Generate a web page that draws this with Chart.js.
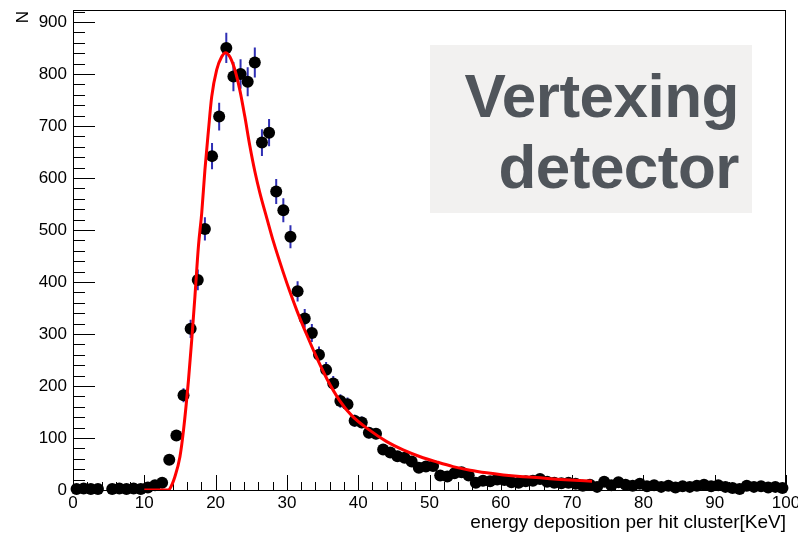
<!DOCTYPE html>
<html>
<head>
<meta charset="utf-8">
<script src="https://cdn.jsdelivr.net/npm/chart.js@4.4.1/dist/chart.umd.min.js"></script>
<style>
  html, body { margin: 0; padding: 0; background: #fff; }
  #wrap { position: relative; width: 798px; height: 537px; overflow: hidden; }
  #plot { position: absolute; left: 0; top: 0; }
  .lbl { position: absolute; font-family: "Liberation Sans", Arial, Helvetica, sans-serif; color: #000; white-space: nowrap; }
  #ytitle { left: 13px; top: 7px; width: 20px; height: 20px; line-height: 20px; text-align: center; font-size: 17px; transform: rotate(-90deg); }
  #xtitle { right: 12px; top: 511px; font-size: 19px; line-height: 22px; }
  #tag {
    position: absolute; left: 430px; top: 45px; width: 322px; height: 168px;
    background: #f2f1f0; box-sizing: border-box; padding: 15px 13px 0 0;
    text-align: right; font-family: "Liberation Sans", Arial, Helvetica, sans-serif;
    font-weight: bold; font-size: 62px; line-height: 71px; color: #50555b; letter-spacing: -0.5px;
  }
</style>
</head>
<body>
<div id="wrap">
  <canvas id="plot" width="798" height="537"></canvas>
  <div class="lbl" id="ytitle">N</div>
  <div class="lbl" id="xtitle">energy deposition per hit cluster[KeV]</div>
  <div id="tag">Vertexing<br>detector</div>
</div>
<script>
// histogram: 100 bins of 1 keV from 0 to 100, entries per bin (null = empty bin)
const counts = [
  2, 3, 2, 2, null, 2, 3, 2, 3, 2,
  5, 9, 14, 58, 105, 182, 310, 404, 502, 642,
  718, 850, 795, 800, 785, 822, 668, 687, 574, 538,
  487, 382, 330, 302, 260, 231, 205, 171, 165, 133,
  130, 110, 108, 78, 72, 65, 62, 55, 43, 45,
  46, 28, 26, 32, 34, 28, 14, 18, 17, 20,
  19, 15, 14, 17, 18, 21, 16, 14, 13, 14,
  12, 8, 10, 6, 16, 9, 15, 10, 8, 12,
  7, 9, 6, 8, 5, 7, 6, 8, 10, 7,
  9, 6, 4, 2, 8, 6, 7, 5, 6, 4
];
const binCenters = counts.map((_, i) => i + 0.5);

// fitted curve, sampled along the drawn function
const fitX = [10, 13.3, 13.6, 14.3, 15.0, 15.5, 16.2, 16.65, 17.1, 17.6, 18.05, 18.5, 19.0, 19.45,
  20.15, 20.85, 21.4, 22.0, 22.7, 23.4, 24.1, 24.8, 25.5, 26.2, 27.2, 28.1, 29.5, 30.4, 31.4,
  32.8, 34.2, 35.6, 37.4, 39.1, 41.4, 44.0, 46.3, 48.7, 51.0, 53.3, 55.7, 58.0, 60.35, 62.7,
  65.0, 67.4, 69.7, 72.8];
const fitY = [0, 0, 3, 26, 64, 115, 212, 288, 372, 470, 532, 615, 692, 756,
  808, 833, 841, 833, 808, 769, 718, 662, 613, 572, 522, 478, 418, 382, 345,
  298, 254, 214, 172, 143, 117, 93, 77, 64, 54, 45, 38, 33, 29, 26,
  24, 21, 19, 17];

const yTicks = [0, 100, 200, 300, 400, 500, 600, 700, 800, 900];
const xTicks = [0, 10, 20, 30, 40, 50, 60, 70, 80, 90, 100];

const FONT = '"Liberation Sans", Arial, Helvetica, sans-serif';

// ROOT-style frame with inward ticks, plus sqrt(N) error bars under the markers
const framePlugin = {
  id: 'frame',
  beforeDatasetsDraw(chart) {
    const { ctx, chartArea: a, scales: { x, y } } = chart;
    ctx.save();
    ctx.strokeStyle = '#000';
    ctx.lineWidth = 1;
    ctx.strokeRect(a.left + 0.5, a.top + 0.5, a.right - a.left - 1, a.bottom - a.top);
    ctx.beginPath();
    for (let v = 0; v <= 920; v += 20) {
      const py = Math.round(y.getPixelForValue(v)) + 0.5;
      const len = v % 100 === 0 ? 22 : 12;
      ctx.moveTo(a.left, py);
      ctx.lineTo(a.left + len, py);
    }
    for (let v = 0; v <= 100; v += 2) {
      const px = Math.round(x.getPixelForValue(v)) + 0.5;
      const len = v % 10 === 0 ? 15 : 8;
      ctx.moveTo(px, a.bottom);
      ctx.lineTo(px, a.bottom - len);
    }
    ctx.stroke();

    ctx.strokeStyle = '#2f2fb4';
    ctx.lineWidth = 2;
    ctx.beginPath();
    counts.forEach((c, i) => {
      if (!c) return;
      const err = Math.sqrt(c);
      const px = x.getPixelForValue(binCenters[i]);
      ctx.moveTo(px, y.getPixelForValue(c - err));
      ctx.lineTo(px, y.getPixelForValue(c + err));
    });
    ctx.stroke();
    ctx.restore();
  }
};

const points = [];
counts.forEach((c, i) => { if (c !== null) points.push({ x: binCenters[i], y: c }); });

new Chart(document.getElementById('plot'), {
  type: 'scatter',
  data: {
    datasets: [
      {
        type: 'line',
        data: fitX.map((v, i) => ({ x: v, y: fitY[i] })),
        borderColor: '#ff0000',
        borderWidth: 3,
        pointRadius: 0,
        fill: false,
        cubicInterpolationMode: 'monotone'
      },
      {
        data: points,
        pointRadius: 6,
        pointBackgroundColor: '#000',
        pointBorderWidth: 0,
        showLine: false,
        clip: false
      }
    ]
  },
  options: {
    responsive: false,
    animation: false,
    layout: { padding: { top: 10, right: 12, left: 0, bottom: 0 } },
    plugins: { legend: { display: false }, tooltip: { enabled: false } },
    scales: {
      x: {
        type: 'linear', min: 0, max: 100,
        grid: { display: false, drawTicks: false }, border: { display: false },
        afterBuildTicks: s => { s.ticks = xTicks.map(v => ({ value: v })); },
        afterFit: s => { s.height = 47; s.paddingLeft = 0; s.paddingRight = 0; },
        ticks: { autoSkip: false, maxRotation: 0, padding: 3, color: '#000', font: { family: FONT, size: 17 } }
      },
      y: {
        min: 0, max: 923,
        grid: { display: false, drawTicks: false }, border: { display: false },
        afterBuildTicks: s => { s.ticks = yTicks.map(v => ({ value: v })); },
        afterFit: s => { s.width = 73; s.paddingTop = 0; s.paddingBottom = 0; },
        ticks: { autoSkip: false, padding: 6, color: '#000', font: { family: FONT, size: 17 } }
      }
    }
  },
  plugins: [framePlugin]
});
</script>
</body>
</html>
